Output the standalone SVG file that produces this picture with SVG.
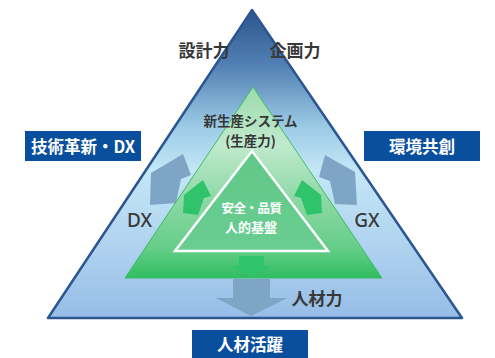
<svg xmlns="http://www.w3.org/2000/svg" width="495" height="358" viewBox="0 0 495 358">
  <defs>
    <linearGradient id="gOuter" gradientUnits="userSpaceOnUse" x1="0" y1="10" x2="0" y2="318">
      <stop offset="0" stop-color="#2a558d"/>
      <stop offset="0.18" stop-color="#5380b4"/>
      <stop offset="0.38" stop-color="#9ccbe6"/>
      <stop offset="0.52" stop-color="#c3e7f6"/>
      <stop offset="0.75" stop-color="#b1d4f0"/>
      <stop offset="1" stop-color="#96bde7"/>
    </linearGradient>
    <linearGradient id="gGreen" gradientUnits="userSpaceOnUse" x1="0" y1="87" x2="0" y2="278">
      <stop offset="0" stop-color="#9cdbae"/>
      <stop offset="0.3" stop-color="#c0eacd"/>
      <stop offset="0.6" stop-color="#8bd8a4"/>
      <stop offset="0.85" stop-color="#64cd88"/>
      <stop offset="1" stop-color="#30bd5f"/>
    </linearGradient>
    <linearGradient id="gInner" gradientUnits="userSpaceOnUse" x1="0" y1="151" x2="0" y2="251">
      <stop offset="0" stop-color="#60c889"/>
      <stop offset="1" stop-color="#6acd91"/>
    </linearGradient>
  </defs>
  <style>
    .lbl { font-family: "Noto Sans CJK JP", "Noto Sans", sans-serif; font-weight: 700; text-anchor: middle; }
    .lat { font-family: "Noto Sans", "Liberation Sans", sans-serif; font-weight: 500; text-anchor: middle; }
    .dark { fill: #383838; }
    .white { fill: #ffffff; }
    .box { fill: #0a4f9d; }
    .barrow { fill: #7fa5c6; }
    .garrow { fill: #2fc46c; }
  </style>

  <g id="outer-triangle">
    <polygon points="252,10 48,318 462,318" fill="url(#gOuter)" stroke="#2b5690" stroke-width="2.5" stroke-linejoin="round"/>
  </g>

  <g id="connectors">
    <polygon class="barrow" points="183,154 191,175 181,179 176,203 150,205 151,173"/>
    <polygon class="barrow" points="325,155 355,172 357,205 335,204 330,181 319,177"/>
    <polygon class="barrow" points="233,279 270,279 270,298 287,298 251,316 216,298 233,298"/>
  </g>

  <g id="green-triangle">
    <polygon points="253,87 125,278 382,278" fill="url(#gGreen)" stroke="#3dbd68" stroke-width="1"/>
  </g>

  <g id="green-arrows">
    <polygon class="garrow" points="203,180 211,196 204,198 198,215 183,213 184,195"/>
    <polygon class="garrow" points="302,180 321,195 322,213 307,215 301,198 294,196"/>
    <polygon class="garrow" points="239,256 264,256 264,266 273,266 252,277 232,266 239,266"/>
  </g>

  <g id="inner-triangle">
    <polygon points="252,151 175,251 328,251" fill="url(#gInner)" stroke="#ffffff" stroke-width="2.5"/>
    <text class="lbl white" x="251.5" y="213" font-size="12.5" letter-spacing="-0.5">安全・品質</text>
    <text class="lbl white" x="251" y="232" font-size="13">人的基盤</text>
  </g>

  <g id="label-sekkei">
    <text class="lbl dark" x="204" y="57" font-size="17">設計力</text>
  </g>
  <g id="label-kikaku">
    <text class="lbl dark" x="295" y="57" font-size="17">企画力</text>
  </g>
  <g id="label-system">
    <text class="lbl dark" x="250.5" y="126" font-size="13.5">新生産システム</text>
    <text class="lbl dark" x="250.5" y="146" font-size="13.5">(生産力)</text>
  </g>
  <g id="label-dx">
    <text class="lat dark" x="139.5" y="227" font-size="19">DX</text>
  </g>
  <g id="label-gx">
    <text class="lat dark" x="367" y="227" font-size="19">GX</text>
  </g>
  <g id="label-jinzairyoku">
    <text class="lbl dark" x="317" y="305" font-size="17">人材力</text>
  </g>

  <g id="box-gijutsu">
    <rect class="box" x="25" y="131" width="116" height="30"/>
    <text class="lbl white" x="83" y="153" font-size="16.5">技術革新・DX</text>
  </g>
  <g id="box-kankyo">
    <rect class="box" x="364" y="131" width="116" height="30"/>
    <text class="lbl white" x="422" y="153" font-size="16.5">環境共創</text>
  </g>
  <g id="box-jinzai">
    <rect class="box" x="192" y="330" width="116" height="28"/>
    <text class="lbl white" x="250" y="351" font-size="16.5">人材活躍</text>
  </g>
</svg>
